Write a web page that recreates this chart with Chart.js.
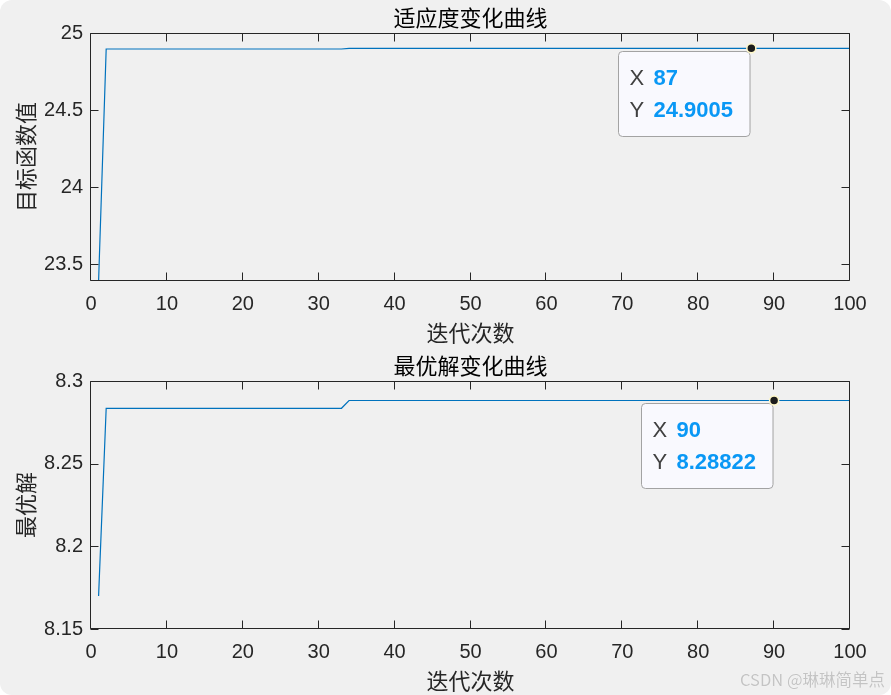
<!DOCTYPE html>
<html>
<head>
<meta charset="utf-8">
<title>适应度变化曲线 / 最优解变化曲线</title>
<script src="https://cdn.jsdelivr.net/npm/chart.js@4.4.0/dist/chart.umd.min.js"></script>
<style>
    html, body { margin: 0; padding: 0; background: #ffffff; }
    #frame {
        position: relative;
        width: 891px;
        height: 695px;
        background: #f0f0f0;
        border-radius: 12px;
        overflow: hidden;
    }
    #fitness-chart { position: absolute; left: 0; top: 0; }
    #best-chart { position: absolute; left: 0; top: 350px; }
    #mark {
        position: absolute;
        right: 6px;
        top: 668px;
        font: 16.5px "Noto Sans CJK SC", "Liberation Sans", sans-serif;
        line-height: 22px;
        color: #c4c4c4;
        text-shadow: 0 0 1px #ffffff;
    }
</style>
</head>
<body>
<div id="frame">
    <canvas id="fitness-chart" width="891" height="350"></canvas>
    <canvas id="best-chart" width="891" height="345"></canvas>
    <div id="mark">CSDN @琳琳简单点</div>
</div>
<script>
// Iteration numbers (shared by both plots)
const iterations = [
    1, 2, 3, 4, 5, 6, 7, 8, 9, 10,
    11, 12, 13, 14, 15, 16, 17, 18, 19, 20,
    21, 22, 23, 24, 25, 26, 27, 28, 29, 30,
    31, 32, 33, 34, 35, 36, 37, 38, 39, 40,
    41, 42, 43, 44, 45, 46, 47, 48, 49, 50,
    51, 52, 53, 54, 55, 56, 57, 58, 59, 60,
    61, 62, 63, 64, 65, 66, 67, 68, 69, 70,
    71, 72, 73, 74, 75, 76, 77, 78, 79, 80,
    81, 82, 83, 84, 85, 86, 87, 88, 89, 90,
    91, 92, 93, 94, 95, 96, 97, 98, 99, 100
];

// Objective value per iteration (top plot)
const fitnessValues = [
    23.39, 24.896, 24.896, 24.896, 24.896, 24.896, 24.896, 24.896, 24.896, 24.896,
    24.896, 24.896, 24.896, 24.896, 24.896, 24.896, 24.896, 24.896, 24.896, 24.896,
    24.896, 24.896, 24.896, 24.896, 24.896, 24.896, 24.896, 24.896, 24.896, 24.896,
    24.896, 24.896, 24.896, 24.9005, 24.9005, 24.9005, 24.9005, 24.9005, 24.9005, 24.9005,
    24.9005, 24.9005, 24.9005, 24.9005, 24.9005, 24.9005, 24.9005, 24.9005, 24.9005, 24.9005,
    24.9005, 24.9005, 24.9005, 24.9005, 24.9005, 24.9005, 24.9005, 24.9005, 24.9005, 24.9005,
    24.9005, 24.9005, 24.9005, 24.9005, 24.9005, 24.9005, 24.9005, 24.9005, 24.9005, 24.9005,
    24.9005, 24.9005, 24.9005, 24.9005, 24.9005, 24.9005, 24.9005, 24.9005, 24.9005, 24.9005,
    24.9005, 24.9005, 24.9005, 24.9005, 24.9005, 24.9005, 24.9005, 24.9005, 24.9005, 24.9005,
    24.9005, 24.9005, 24.9005, 24.9005, 24.9005, 24.9005, 24.9005, 24.9005, 24.9005, 24.9005
];

// Best solution per iteration (bottom plot)
const bestValues = [
    8.170, 8.2835, 8.2835, 8.2835, 8.2835, 8.2835, 8.2835, 8.2835, 8.2835, 8.2835,
    8.2835, 8.2835, 8.2835, 8.2835, 8.2835, 8.2835, 8.2835, 8.2835, 8.2835, 8.2835,
    8.2835, 8.2835, 8.2835, 8.2835, 8.2835, 8.2835, 8.2835, 8.2835, 8.2835, 8.2835,
    8.2835, 8.2835, 8.2835, 8.28822, 8.28822, 8.28822, 8.28822, 8.28822, 8.28822, 8.28822,
    8.28822, 8.28822, 8.28822, 8.28822, 8.28822, 8.28822, 8.28822, 8.28822, 8.28822, 8.28822,
    8.28822, 8.28822, 8.28822, 8.28822, 8.28822, 8.28822, 8.28822, 8.28822, 8.28822, 8.28822,
    8.28822, 8.28822, 8.28822, 8.28822, 8.28822, 8.28822, 8.28822, 8.28822, 8.28822, 8.28822,
    8.28822, 8.28822, 8.28822, 8.28822, 8.28822, 8.28822, 8.28822, 8.28822, 8.28822, 8.28822,
    8.28822, 8.28822, 8.28822, 8.28822, 8.28822, 8.28822, 8.28822, 8.28822, 8.28822, 8.28822,
    8.28822, 8.28822, 8.28822, 8.28822, 8.28822, 8.28822, 8.28822, 8.28822, 8.28822, 8.28822
];

// Axis limits and tick labels
const xRange = [0, 100];
const fitnessRange = [23.39, 25];
const fitnessTicks = [23.5, 24, 24.5, 25];
const bestRange = [8.15, 8.3];
const bestTicks = [8.15, 8.2, 8.25, 8.3];

// Data tips (iteration shown)
const fitnessTipAt = 87;
const bestTipAt = 90;

const SANS = '"Liberation Sans", Arial, Helvetica, sans-serif';
const CJK = '"Noto Sans CJK SC", "Noto Sans", sans-serif';
const INK = '#262626';

// MATLAB-like box with inward ticks on all four sides, plus title over the plot area
const matlabAxes = {
    id: 'matlabAxes',
    afterDatasetsDraw(chart, args, opts) {
        const { ctx, chartArea: a, scales: { x, y } } = chart;
        const left = Math.round(a.left) - 0.5;
        const right = Math.round(a.right) - 0.5;
        const top = Math.round(a.top) + 0.5;
        const bottom = Math.round(a.bottom) - 0.5;
        const tl = 8;

        ctx.save();
        ctx.strokeStyle = INK;
        ctx.lineWidth = 1;
        ctx.beginPath();
        x.ticks.forEach(t => {
            const px = Math.round(x.getPixelForValue(t.value)) - 0.5;
            ctx.moveTo(px, bottom); ctx.lineTo(px, bottom - tl);
            ctx.moveTo(px, top); ctx.lineTo(px, top + tl);
        });
        y.ticks.forEach(t => {
            const py = Math.round(y.getPixelForValue(t.value)) + 0.5;
            ctx.moveTo(left, py); ctx.lineTo(left + tl, py);
            ctx.moveTo(right, py); ctx.lineTo(right - tl, py);
        });
        ctx.rect(left, top, right - left, bottom - top);
        ctx.stroke();

        // title
        ctx.fillStyle = '#000000';
        ctx.font = '22px ' + CJK;
        ctx.textAlign = 'center';
        ctx.textBaseline = 'middle';
        ctx.fillText(opts.title, (a.left + a.right) / 2, a.top - 15.5);
        ctx.restore();
    }
};

// MATLAB datatip: dark marker plus a light box with X / Y read-out
const dataTip = {
    id: 'dataTip',
    afterDraw(chart, args, opts) {
        const data = chart.data.datasets[0].data;
        const i = data.findIndex(p => p.x === opts.at);
        if (i < 0) return;
        const pt = chart.getDatasetMeta(0).data[i];
        const { ctx } = chart;
        const rows = [
            ['X', String(data[i].x)],
            ['Y', String(Number(data[i].y.toPrecision(6)))]
        ];

        ctx.save();
        ctx.font = 'bold 22px ' + SANS;
        const valW = Math.max(...rows.map(r => ctx.measureText(r[1]).width));
        const w = 36 + valW + 16;
        const h = 85;
        const bx = Math.round(pt.x - 2 - w) + 0.5;
        const by = Math.round(pt.y + 3) + 0.5;

        ctx.beginPath();
        ctx.roundRect(bx, by, w, h, 4);
        ctx.fillStyle = '#f9f9fe';
        ctx.fill();
        ctx.strokeStyle = '#a3a3a3';
        ctx.lineWidth = 1;
        ctx.stroke();

        ctx.textBaseline = 'middle';
        ctx.textAlign = 'left';
        rows.forEach((r, k) => {
            const ty = by + 27.5 + k * 32;
            ctx.font = '22px ' + SANS;
            ctx.fillStyle = '#404040';
            ctx.fillText(r[0], bx + 11, ty);
            ctx.font = 'bold 22px ' + SANS;
            ctx.fillStyle = '#0a98f5';
            ctx.fillText(r[1], bx + 35, ty);
        });

        ctx.beginPath();
        ctx.arc(pt.x, pt.y, 4.5, 0, Math.PI * 2);
        ctx.fillStyle = '#1c1c1c';
        ctx.fill();
        ctx.strokeStyle = '#fff8c8';
        ctx.lineWidth = 1.5;
        ctx.stroke();
        ctx.restore();
    }
};

function makePlot(canvasId, values, yRange, yTicks, title, yTitle, tipAt, padTop, padBottom) {
    const ctx = document.getElementById(canvasId).getContext('2d');
    return new Chart(ctx, {
        type: 'line',
        data: {
            datasets: [{
                data: iterations.map((it, i) => ({ x: it, y: values[i] })),
                borderColor: '#0072bd',
                borderWidth: 1.2,
                pointRadius: 0,
                tension: 0,
                fill: false
            }]
        },
        options: {
            responsive: false,
            animation: false,
            events: [],
            layout: { padding: { top: padTop, right: 41, bottom: padBottom, left: 0 } },
            plugins: {
                legend: { display: false },
                tooltip: { enabled: false },
                title: { display: false },
                matlabAxes: { title: title },
                dataTip: { at: tipAt }
            },
            scales: {
                x: {
                    type: 'linear',
                    min: xRange[0],
                    max: xRange[1],
                    grid: { display: false, drawTicks: false },
                    border: { display: false },
                    ticks: {
                        stepSize: 10,
                        padding: 11,
                        color: INK,
                        font: { family: SANS, size: 20 },
                        maxRotation: 0
                    },
                    title: {
                        display: true,
                        text: '迭代次数',
                        color: INK,
                        font: { family: CJK, size: 22, lineHeight: 1.2 },
                        padding: { top: 0, bottom: 0 }
                    },
                    afterFit: scale => { scale.height = 65; }
                },
                y: {
                    type: 'linear',
                    min: yRange[0],
                    max: yRange[1],
                    grid: { display: false, drawTicks: false },
                    border: { display: false },
                    afterBuildTicks: scale => {
                        scale.ticks = yTicks.map(v => ({ value: v }));
                    },
                    ticks: {
                        padding: 8,
                        color: INK,
                        font: { family: SANS, size: 20 },
                        callback: v => String(v)
                    },
                    title: {
                        display: true,
                        text: yTitle,
                        color: INK,
                        font: { family: CJK, size: 22, lineHeight: 1.2 },
                        padding: { top: 12, bottom: 0 }
                    },
                    afterFit: scale => { scale.width = 91; }
                }
            }
        },
        plugins: [matlabAxes, dataTip]
    });
}

makePlot('fitness-chart', fitnessValues, fitnessRange, fitnessTicks,
    '适应度变化曲线', '目标函数值', fitnessTipAt, 33, 4);
makePlot('best-chart', bestValues, bestRange, bestTicks,
    '最优解变化曲线', '最优解', bestTipAt, 31, 1);
</script>
</body>
</html>
